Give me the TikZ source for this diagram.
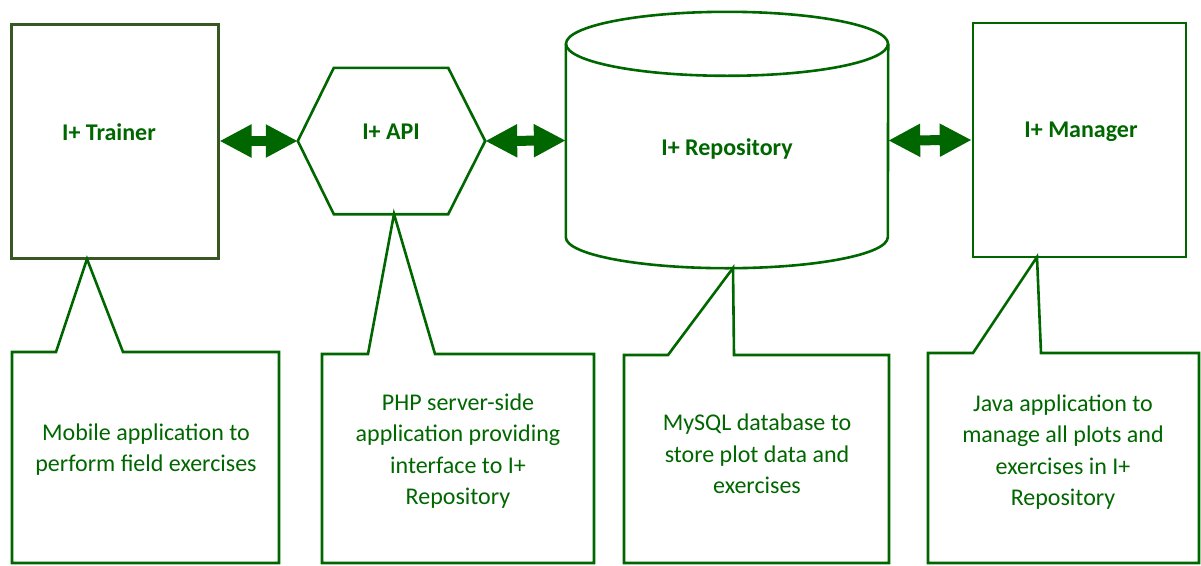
\documentclass[tikz,border=0pt]{standalone}
\usepackage{fontspec}
\setmainfont{Carlito}
\usepackage{tikz}
\usetikzlibrary{arrows.meta, positioning, calc}
\definecolor{ipgreen}{RGB}{0,102,0}
\definecolor{ipolive}{RGB}{56,87,35}
\tikzset{
  unit/.style={
    rectangle, minimum width=207pt, minimum height=234pt,
    draw=ipgreen, line width=2.6pt, inner sep=0pt
  },
  frame/.style={
    rectangle, inner sep=0pt, draw=none
  },
  title/.style={
    font=\fontsize{24}{31}\selectfont\bfseries, text=ipgreen
  },
  note/.style={
    font=\fontsize{24}{31.3}\selectfont, text=ipgreen, align=center
  },
  outline/.style={draw=ipgreen, line width=2.6pt, line join=miter},
  link/.style={<->, >={Triangle[length=32pt,width=31pt]},
    line width=10pt, draw=ipgreen}
}

\begin{document}
\begin{tikzpicture}[x=1pt, y=1pt]
  \useasboundingbox (0,0) rectangle (1201,-565);

  % Components
  \node[unit, draw=ipolive, line width=3pt] (trainer) at (114.5,-141) {};
  \node[frame, minimum width=187pt, minimum height=146pt] (api) at (391.5,-141) {};
  \node[frame, minimum width=322pt, minimum height=193pt] (repo) at (727,-140.5) {};
  \node[unit, minimum width=213pt] (manager) at (1079.5,-140) {};

  % API hexagon
  \draw[outline] (api.west) -- ($(api.north west)+(36,0)$)
    -- ($(api.north east)+(-37,0)$) -- (api.east)
    -- ($(api.south east)+(-37,0)$) -- ($(api.south west)+(36,0)$) -- cycle;

  % Repository cylinder
  \draw[outline] (repo.north) ellipse [x radius=161, y radius=32];
  \draw[outline] (repo.north west) -- (repo.south west)
    arc [start angle=180, end angle=360, x radius=161, y radius=31]
    -- (repo.north east);

  % Titles
  \node[title] (trainerlbl) at (109,-132) {I+ Trainer};
  \node[title] (apilbl) at (391,-132) {I+ API};
  \node[title] (repolbl) at (727,-149) {I+ Repository};
  \node[title] (managerlbl) at (1081,-131.5) {I+ Manager};

  % Links
  \draw[link] (trainer.east) -- (api.west);
  \draw[link] (api.east) -- (repo.west);
  \draw[link] (repo.east) -- (manager.west);

  % Callouts
  \foreach \l/\r/\t/\bl/\br/\tx/\ty in {
      12/279/352/56/123/87/259,
      322/594/354/368/435/394/214,
      624/889/355/668/734/733/268,
      928/1199/353/973/1041/1037/257} {
    \draw[outline] (\l,-563) -- (\l,-\t) -- (\bl,-\t) -- (\tx,-\ty)
      -- (\br,-\t) -- (\r,-\t) -- (\r,-563) -- cycle;
  }

  \node[note] (trainernote) at (146,-449.5)
    {Mobile application to\\perform field exercises};
  \node[note] (apinote) at (458,-451)
    {PHP server-side\\application providing\\interface to I+\\Repository};
  \node[note] (reponote) at (757,-454)
    {MySQL database to\\store plot data and\\exercises};
  \node[note] (managernote) at (1063,-452)
    {Java application to\\manage all plots and\\exercises in I+\\Repository};
\end{tikzpicture}
\end{document}
